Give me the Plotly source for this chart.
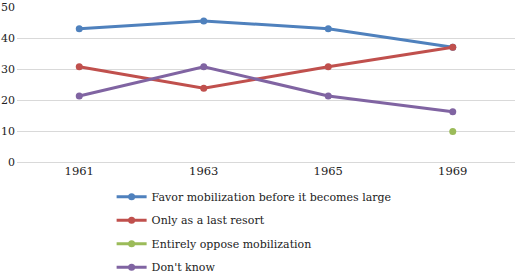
import plotly.graph_objects as go

years = ["1961", "1963", "1965", "1969"]
favor = [43.0, 45.5, 43.0, 37.0]
last_resort = [30.7, 23.8, 30.7, 37.0]
oppose = [None, None, None, 9.8]
dont_know = [21.3, 30.7, 21.3, 16.2]

names = ["Favor mobilization before it becomes large", "Only as a last resort",
         "Entirely oppose mobilization", "Don't know"]
colors = ["#4F81BD", "#C0504D", "#9BBB59", "#8064A2"]
series = [favor, last_resort, oppose, dont_know]

fig = go.Figure()
for i, (n, c, s) in enumerate(zip(names, colors, series)):
    fig.add_trace(go.Scatter(
        x=years, y=s, name=n, mode="lines+markers",
        line=dict(color=c, width=3),
        marker=dict(color=c, size=7),
        legendgroup=str(i),
    ))

font = "DejaVu Serif, serif"
fig.update_layout(
    width=517, height=275,
    margin=dict(l=17, r=2, t=7, b=113, autoexpand=False),
    paper_bgcolor="white", plot_bgcolor="white",
    font=dict(family=font, size=11, color="#222222"),
    showlegend=True,
    legend=dict(orientation="v", x=0.19, xanchor="left", y=-0.13, yanchor="top",
                tracegroupgap=4.5, font=dict(size=11, family=font),
                bgcolor="rgba(0,0,0,0)"),
    xaxis=dict(type="category", showgrid=False, showline=False, ticks="",
               tickfont=dict(size=11.5), range=[-0.5, 3.5], automargin=False),
    yaxis=dict(range=[0, 50], dtick=10, showgrid=True, gridcolor="#D9D9D9",
               gridwidth=1, zeroline=True, zerolinecolor="#D9D9D9", zerolinewidth=1,
               showline=False, ticks="", tickfont=dict(size=11), automargin=False,
               ticklabelstandoff=1),
)
fig.write_html("out.html", config={"displayModeBar": False},
               post_script="document.body.style.margin='0';")
